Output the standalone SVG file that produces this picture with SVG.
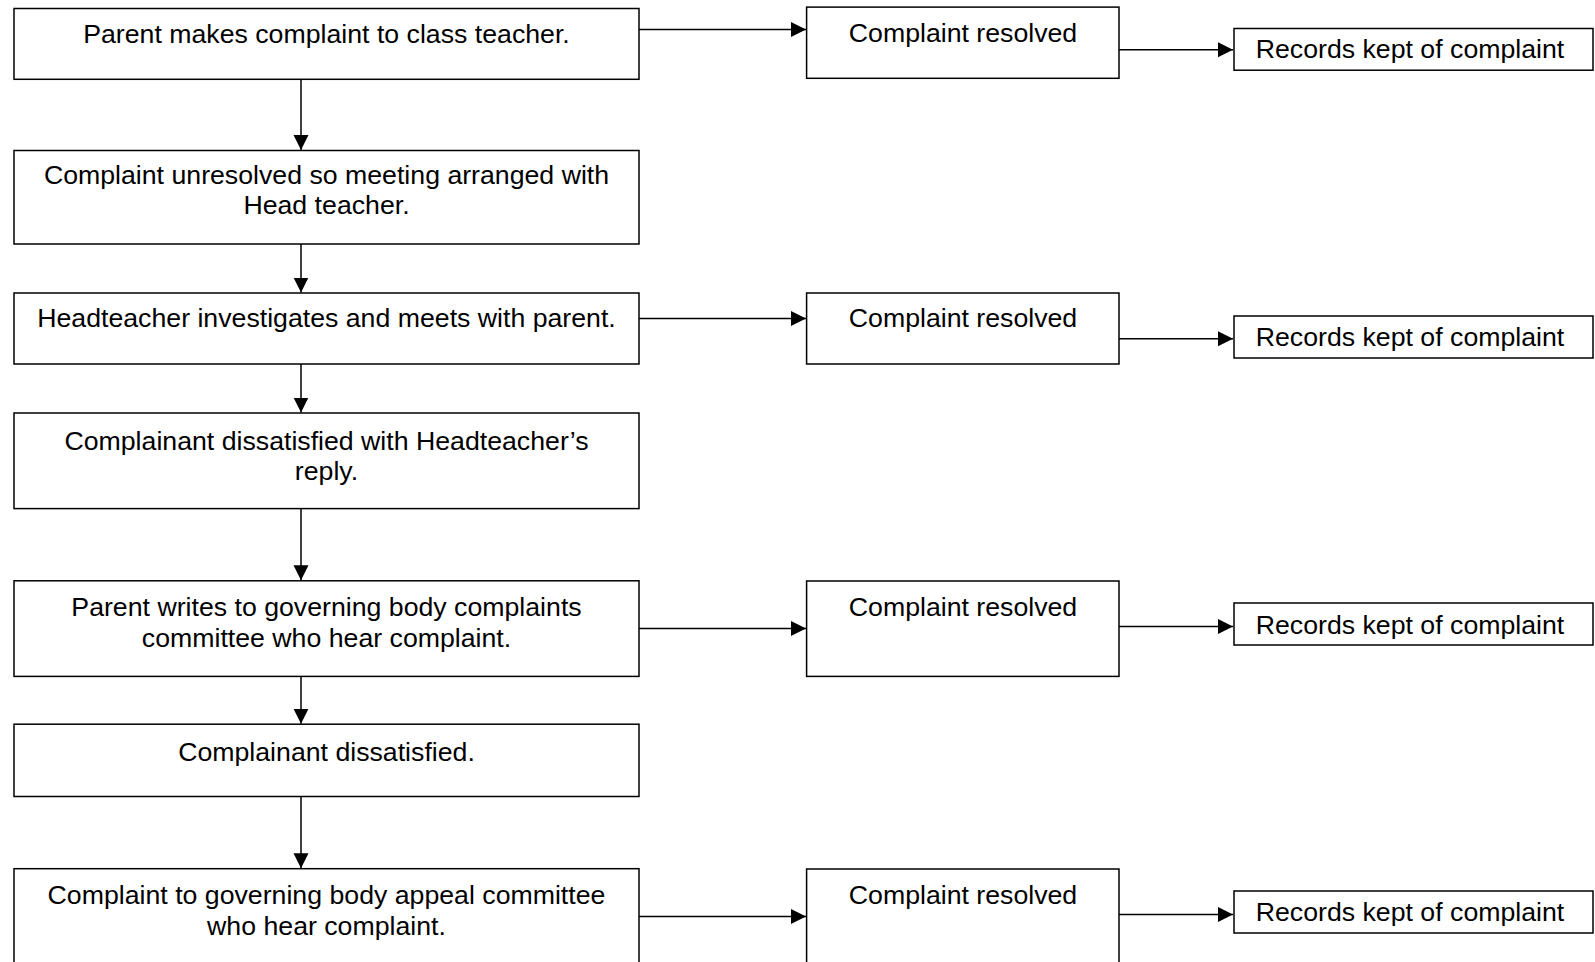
<svg xmlns="http://www.w3.org/2000/svg" width="1595" height="962" viewBox="0 0 1595 962">
<style>
.box{fill:#fff;stroke:#000;stroke-width:1.5}
.t{font-family:"Liberation Sans",Arial,sans-serif;font-size:26.7px;fill:#000;text-anchor:middle}
.c{stroke:#000;stroke-width:1.5;fill:none;marker-end:url(#ah)}
</style>
<defs>
<marker id="ah" markerUnits="userSpaceOnUse" markerWidth="16" markerHeight="16" refX="15" refY="7.5" orient="auto">
<path d="M0,0 L15,7.5 L0,15 Z" fill="#000"/>
</marker>
</defs>
<rect width="1595" height="962" fill="#fff"/>
<g id="connectors">
<line class="c" x1="639" y1="29.5" x2="806" y2="29.5"/>
<line class="c" x1="1119" y1="49.8" x2="1233" y2="49.8"/>
<line class="c" x1="639" y1="318.5" x2="806" y2="318.5"/>
<line class="c" x1="1119" y1="338.7" x2="1233" y2="338.7"/>
<line class="c" x1="639" y1="628.5" x2="806" y2="628.5"/>
<line class="c" x1="1119" y1="626.6" x2="1233" y2="626.6"/>
<line class="c" x1="639" y1="916.5" x2="806" y2="916.5"/>
<line class="c" x1="1119" y1="914.5" x2="1233" y2="914.5"/>
<line class="c" x1="301" y1="79.3" x2="301" y2="150"/>
<line class="c" x1="301" y1="244" x2="301" y2="292.5"/>
<line class="c" x1="301" y1="364" x2="301" y2="412.5"/>
<line class="c" x1="301" y1="508.6" x2="301" y2="580.3"/>
<line class="c" x1="301" y1="676.4" x2="301" y2="723.7"/>
<line class="c" x1="301" y1="796.5" x2="301" y2="868.2"/>
</g>
<g id="n1"><rect class="box" x="14" y="8.5" width="625" height="70.8"/><text class="t" x="326.5" y="43">Parent makes complaint to class teacher.</text></g>
<g id="n2"><rect class="box" x="14" y="150.5" width="625" height="93.5"/><text class="t" x="326.5" y="184">Complaint unresolved so meeting arranged with</text><text class="t" x="326.5" y="214">Head teacher.</text></g>
<g id="n3"><rect class="box" x="14" y="293" width="625" height="71"/><text class="t" x="326.5" y="327">Headteacher investigates and meets with parent.</text></g>
<g id="n4"><rect class="box" x="14" y="413" width="625" height="95.6"/><text class="t" x="326.5" y="450">Complainant dissatisfied with Headteacher’s</text><text class="t" x="326.5" y="480">reply.</text></g>
<g id="n5"><rect class="box" x="14" y="580.8" width="625" height="95.6"/><text class="t" x="326.5" y="616">Parent writes to governing body complaints</text><text class="t" x="326.5" y="647">committee who hear complaint.</text></g>
<g id="n6"><rect class="box" x="14" y="724.2" width="625" height="72.3"/><text class="t" x="326.5" y="761">Complainant dissatisfied.</text></g>
<g id="n7"><rect class="box" x="14" y="868.7" width="625" height="100"/><text class="t" x="326.5" y="904">Complaint to governing body appeal committee</text><text class="t" x="326.5" y="935">who hear complaint.</text></g>
<g id="r1"><rect class="box" x="806.6" y="7.1" width="312.4" height="71.2"/><text class="t" x="963" y="42">Complaint resolved</text></g>
<g id="r2"><rect class="box" x="806.6" y="293" width="312.4" height="71"/><text class="t" x="963" y="327">Complaint resolved</text></g>
<g id="r3"><rect class="box" x="806.6" y="581" width="312.4" height="95.4"/><text class="t" x="963" y="616">Complaint resolved</text></g>
<g id="r4"><rect class="box" x="806.6" y="869" width="312.4" height="100"/><text class="t" x="963" y="904">Complaint resolved</text></g>
<g id="k1"><rect class="box" x="1234" y="28.5" width="359" height="41.7"/><text class="t" x="1410" y="58">Records kept of complaint</text></g>
<g id="k2"><rect class="box" x="1234" y="316" width="359" height="42"/><text class="t" x="1410" y="346">Records kept of complaint</text></g>
<g id="k3"><rect class="box" x="1234" y="603" width="359" height="42"/><text class="t" x="1410" y="634">Records kept of complaint</text></g>
<g id="k4"><rect class="box" x="1234" y="891" width="359" height="42"/><text class="t" x="1410" y="921">Records kept of complaint</text></g>
</svg>
